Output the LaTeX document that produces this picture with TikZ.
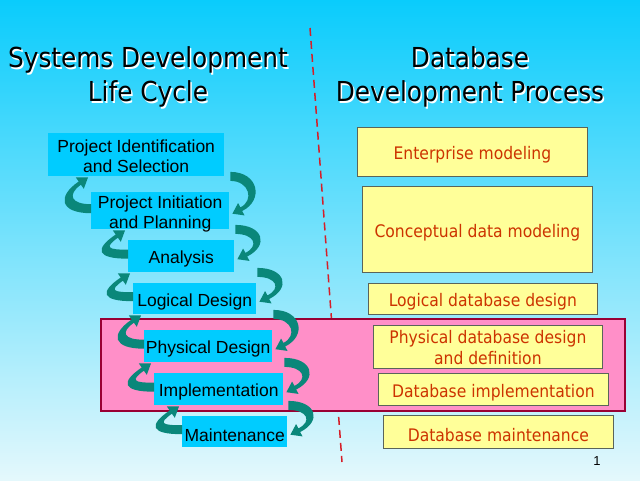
\documentclass[tikz,border=0pt]{standalone}
\usepackage{fontspec}
\setmainfont{Liberation Sans}
\newfontfamily\tah{DejaVu Sans Condensed}
\usetikzlibrary{arrows.meta,calc}
\definecolor{bgtop}{RGB}{10,204,252}
\definecolor{bgbot}{RGB}{228,248,252}
\definecolor{cybox}{RGB}{0,204,255}
\definecolor{ylbox}{RGB}{255,255,153}
\definecolor{ylline}{RGB}{90,100,90}
\definecolor{ytext}{RGB}{204,51,0}
\definecolor{pinkf}{RGB}{255,143,200}
\definecolor{pinkl}{RGB}{153,0,51}
\definecolor{tealc}{RGB}{10,135,122}
\definecolor{dashc}{RGB}{214,30,40}
\begin{document}
\begin{tikzpicture}[x=1pt,y=-1pt,
  lbox/.style={fill=cybox, anchor=north west, inner sep=0pt, align=center, text height=18.8pt, font=\fontsize{17.5}{20}\selectfont},
  rbox/.style={fill=ylbox, draw=ylline, line width=0.8pt, anchor=north west, inner sep=0pt, align=center, text height=19.5pt, text=ytext, font=\tah\fontsize{17.3}{21}\selectfont},
  twoline/.style={text height=#1, text depth=0pt},
  cyc/.style={fill=tealc, draw=none},
  ttl/.style={font=\tah\fontsize{27.5}{34}\selectfont, align=center}]
\useasboundingbox (0,0) rectangle (640,480);
\shade[top color=bgtop, bottom color=bgbot] (0,0) rectangle (640,480);
% divider
\coordinate (dtop) at (310,28);
\coordinate (dbot) at (342,462);
\draw[dashc, line width=1.5pt, dash pattern=on 8pt off 5pt] (dtop) -- (dbot);
% pink band
\draw[fill=pinkf, draw=pinkl, line width=1.5pt] (101,319) rectangle (625,411);
% titles
\node[ttl, text=white] (t1s) at (149.5,78.5) {Systems Development\\Life Cycle};
\node[ttl, text=black] (t1) at (148,77) {Systems Development\\Life Cycle};
\node[ttl, text=white] (t2s) at (471.5,78.5) {Database\\Development Process};
\node[ttl, text=black] (t2) at (470,77) {Database\\Development Process};
% left boxes
\node[lbox, twoline=36pt, minimum width=176pt, minimum height=43pt] (l1) at (48,133) {Project Identification\\and Selection};
\node[lbox, twoline=36pt, minimum width=138pt, minimum height=37pt] (l2) at (91,192) {Project Initiation\\and Planning};
\node[lbox, minimum width=106pt, minimum height=32pt] (l3) at (128,240) {Analysis};
\node[lbox, minimum width=123pt, minimum height=31pt] (l4) at (133,283) {Logical Design};
\node[lbox, minimum width=128pt, minimum height=32pt] (l5) at (144,330) {Physical Design};
\node[lbox, minimum width=129pt, minimum height=32pt] (l6) at (154,373) {Implementation};
\node[lbox, minimum width=105pt, minimum height=31pt] (l7) at (182,416) {Maintenance};
% right boxes
\node[rbox, minimum width=230pt, minimum height=49pt] (r1) at (357,127) {Enterprise modeling};
\node[rbox, minimum width=230pt, minimum height=86pt] (r2) at (362,186) {Conceptual data modeling};
\node[rbox, minimum width=229pt, minimum height=31pt] (r3) at (368,283) {Logical database design};
\node[rbox, twoline=35.6pt, minimum width=229pt, minimum height=43pt] (r4) at (373,325) {Physical database design\\and definition};
\node[rbox, minimum width=230pt, minimum height=32pt] (r5) at (378,373) {Database implementation};
\node[rbox, minimum width=230pt, minimum height=33pt] (r6) at (383,415) {Database maintenance};
% cycle arrows (tapered curved arrows)
\foreach \u/\l in {l1/l2,l2/l3,l3/l4,l4/l5,l5/l6,l6/l7}{
  % right side: from upper box down to lower box
  \coordinate (ra) at ($(\l.east |- \u.south)+(1,0)$);
  \coordinate (rb) at ($(\l.east)+(3,3)$);
  \coordinate (rc) at ($(rb)+(8.9,-4.5)$);
  \fill[cyc] ($(ra)+(0,-4.5)$) .. controls +(28,0) and +(22,-11) .. ($(rc)+(0.9,1.8)$)
    -- ($(rc)+(3.2,6.2)$) -- (rb) -- ($(rc)+(-3.2,-6.2)$) -- ($(rc)+(-0.9,-1.8)$)
    .. controls +(14,-7) and +(19,0) .. ($(ra)+(0,4.5)$) -- cycle;
  % left side: from lower box up to upper box
  \coordinate (la) at ($(\l.west)+(0,-2)$);
  \coordinate (lb) at ($(\l.west |- \u.south)+(-3,1)$);
  \coordinate (lc) at ($(lb)+(-8.2,5.7)$);
  \fill[cyc] ($(la)+(0,4.5)$) .. controls +(-31,0) and +(-22,15) .. ($(lc)+(-1.1,-1.6)$)
    -- ($(lc)+(-4,-5.7)$) -- (lb) -- ($(lc)+(4,5.7)$) -- ($(lc)+(1.1,1.6)$)
    .. controls +(-14,10) and +(-20,0) .. ($(la)+(0,-4.5)$) -- cycle;
}
\node[font=\fontsize{13}{15}\selectfont] (pg) at (597,461) {1};
\end{tikzpicture}
\end{document}
